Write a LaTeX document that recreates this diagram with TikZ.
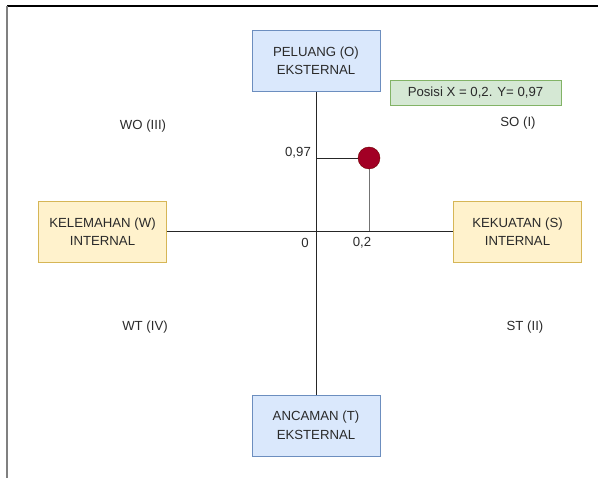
\documentclass[tikz,border=0pt]{standalone}
\usepackage{fontspec}
\setmainfont{Liberation Sans}
\usetikzlibrary{shapes,calc}
\definecolor{teks}{HTML}{2A2A2A}
\definecolor{biru}{HTML}{DAE8FC}
\definecolor{biru_g}{HTML}{6C8EBF}
\definecolor{kuning}{HTML}{FFF2CC}
\definecolor{kuning_g}{HTML}{D6B656}
\definecolor{hijau}{HTML}{D5E8D4}
\definecolor{hijau_g}{HTML}{82B366}
\definecolor{merah}{HTML}{A20025}
\definecolor{merah_g}{HTML}{6F0000}
\tikzset{
  kotak/.style = {align=center, inner sep=0pt, text centered, text=teks, font=\fontsize{13.2}{18.5}\selectfont, minimum width=128pt, minimum height=61pt},
  kotak_b/.style = {kotak, draw=biru_g, fill=biru},
  kotak_k/.style = {kotak, draw=kuning_g, fill=kuning},
  kotak_h/.style = {kotak, draw=hijau_g, fill=hijau, minimum width=171pt, minimum height=25pt},
  lbl/.style = {inner sep=0pt, text=teks, font=\fontsize{13.2}{15}\selectfont},
  titik/.style = {circle, draw=merah_g, fill=merah, minimum size=22pt, inner sep=0pt},
  garis/.style = {draw=black!85, line width=0.9pt}
}
\begin{document}
\begin{tikzpicture}[x=1pt,y=-1pt]
\useasboundingbox (0,0) rectangle (598,478);
\draw[black, line width=1.4pt] (7,6) -- (598,6);
\draw[gray, line width=1.4pt] (7,6) -- (7,478);

\node [kotak_b] (peluang) at (316,61) {PELUANG (O)\\EKSTERNAL};
\node [kotak_b] (ancaman) at (316,425.5) {ANCAMAN (T)\\EKSTERNAL};
\node [kotak_k] (kelemahan) at (102.5,231.5) {KELEMAHAN (W)\\INTERNAL};
\node [kotak_k] (kekuatan) at (517.5,231.5) {KEKUATAN (S)\\INTERNAL};
\node [kotak_h] (posisi) at (475.5,92.5) {Posisi X = 0,2. Y= 0,97};

\node [lbl] (wo) at (143,126) {WO (III)};
\node [lbl] (so) at (518,123) {SO (I)};
\node [lbl] (wt) at (145,327) {WT (IV)};
\node [lbl] (st) at (525,327) {ST (II)};
\node [lbl] (y97) at (298,153) {0,97};
\node [lbl] (nol) at (305,243) {0};
\node [lbl] (x02) at (362,243) {0,2};

\coordinate (sb_y) at (316,158);
\coordinate (sb_x) at (369,231.5);
\draw [garis] (kelemahan.east) -- (kekuatan.west);
\draw [garis] (peluang.south) -- (ancaman.north);
\draw [garis] (sb_y) -- (369,158);
\draw [garis, draw=black!55] (369,158) -- (sb_x);
\node [titik] (dot) at (369,158) {};
\end{tikzpicture}
\end{document}
